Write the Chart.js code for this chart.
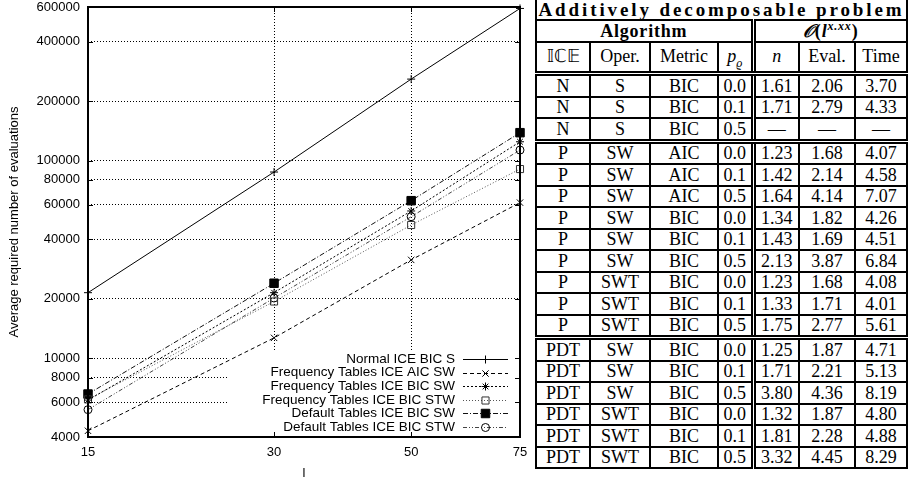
<!DOCTYPE html>
<html>
<head>
<meta charset="utf-8">
<script src="https://cdn.jsdelivr.net/npm/chart.js@4.4.1/dist/chart.umd.min.js"></script>
<style>
  body { margin: 0; background: #fff; width: 912px; height: 486px; overflow: hidden; position: relative; }
  #chart-wrap { position: absolute; left: 0; top: 0; width: 530px; height: 486px; }
  table { position: absolute; left: 535px; top: 0; border-collapse: collapse; table-layout: fixed;
          font-family: "Liberation Serif", serif; font-size: 18px; color: #000; }
  td { border: 2px solid #000; text-align: center; padding: 0; height: 19.5px; line-height: 18px; white-space: nowrap; overflow: hidden; }
  td.dl { border-left: 5px double #000; }
  tr.db td { border-bottom: 5px double #000; }
  tr.title td { border-top: none; font-weight: bold; font-size: 19px; letter-spacing: 2.9px; height: 19px; }
  tr.alg td { font-weight: bold; height: 20px; letter-spacing: 0.8px; }
  tr.hdr td { height: 25px; padding-bottom: 3px; }
</style>
</head>
<body>
<div id="chart-wrap"><canvas id="chart"></canvas></div>
<table id="results"></table>

<script>
// --- data ---
const lValues = [15, 30, 50, 75];
const normalIceBicS = [21500, 87700, 259000, 590000];
const freqIceAicSw = [4300, 12700, 31500, 61400];
const freqIceBicSw = [6150, 21500, 55700, 124800];
const freqIceBicStw = [6200, 19400, 47300, 90800];
const defIceBicSw = [6600, 24000, 62800, 138700];
const defIceBicStw = [5500, 20200, 52100, 113300];

const seriesNames = [
    'Normal ICE BIC S',
    'Frequency Tables ICE AIC SW',
    'Frequency Tables ICE BIC SW',
    'Frequency Tables ICE BIC STW',
    'Default Tables ICE BIC SW',
    'Default Tables ICE BIC STW'
];
const xTicks = [15, 30, 50, 75];
const yTicks = [4000, 6000, 8000, 10000, 20000, 40000, 60000, 80000, 100000, 200000, 400000, 600000];

// --- table data ---
const tableRows = [
    ['N', 'S', 'BIC', '0.0', '1.61', '2.06', '3.70'],
    ['N', 'S', 'BIC', '0.1', '1.71', '2.79', '4.33'],
    ['N', 'S', 'BIC', '0.5', '—', '—', '—'],
    ['P', 'SW', 'AIC', '0.0', '1.23', '1.68', '4.07'],
    ['P', 'SW', 'AIC', '0.1', '1.42', '2.14', '4.58'],
    ['P', 'SW', 'AIC', '0.5', '1.64', '4.14', '7.07'],
    ['P', 'SW', 'BIC', '0.0', '1.34', '1.82', '4.26'],
    ['P', 'SW', 'BIC', '0.1', '1.43', '1.69', '4.51'],
    ['P', 'SW', 'BIC', '0.5', '2.13', '3.87', '6.84'],
    ['P', 'SWT', 'BIC', '0.0', '1.23', '1.68', '4.08'],
    ['P', 'SWT', 'BIC', '0.1', '1.33', '1.71', '4.01'],
    ['P', 'SWT', 'BIC', '0.5', '1.75', '2.77', '5.61'],
    ['PDT', 'SW', 'BIC', '0.0', '1.25', '1.87', '4.71'],
    ['PDT', 'SW', 'BIC', '0.1', '1.71', '2.21', '5.13'],
    ['PDT', 'SW', 'BIC', '0.5', '3.80', '4.36', '8.19'],
    ['PDT', 'SWT', 'BIC', '0.0', '1.32', '1.87', '4.80'],
    ['PDT', 'SWT', 'BIC', '0.1', '1.81', '2.28', '4.88'],
    ['PDT', 'SWT', 'BIC', '0.5', '3.32', '4.45', '8.29']
];
const groupEnds = [2, 11];   // rows followed by a double rule
const colWidths = [54, 60, 68, 35, 46, 56, 52];

function buildTable() {
    const t = document.getElementById('results');
    let html = '<colgroup>' + colWidths.map(w => `<col style="width:${w}px">`).join('') + '</colgroup>';
    html += '<tr class="title"><td colspan="7">Additively decomposable problem</td></tr>';
    html += '<tr class="alg"><td colspan="4">Algorithm</td><td colspan="3" class="dl"><i>𝒪</i>(<i>l</i><sup style="font-size:12px;line-height:0"><b><i>x.xx</i></b></sup>)</td></tr>';
    html += '<tr class="hdr db"><td>𝕀ℂ𝔼</td><td>Oper.</td><td>Metric</td><td><i>p</i><sub style="font-size:12px;line-height:0"><i>ϱ</i></sub></td>'
          + '<td class="dl"><i>n</i></td><td>Eval.</td><td>Time</td></tr>';
    tableRows.forEach((r, i) => {
        const cls = groupEnds.includes(i) ? ' class="db"' : '';
        html += `<tr${cls}>` + r.map((c, j) => `<td${j === 4 ? ' class="dl"' : ''}>${c}</td>`).join('') + '</tr>';
    });
    t.innerHTML = html;
}
buildTable();

// --- chart ---
const seriesData = [normalIceBicS, freqIceAicSw, freqIceBicSw, freqIceBicStw, defIceBicSw, defIceBicStw];
const dashes = [[], [4, 3], [2, 2], [1, 2], [5, 2, 1, 2], [4, 2, 1, 2, 1, 2]];
const lineColors = ['#000', '#000', '#000', '#555', '#111', '#444'];
const pointStyles = ['cross', 'crossRot', 'star', 'rect', 'rect', 'circle'];
const pointRadii = [4, 4.5, 4, 5, 6, 4];
const pointFills = ['#fff', '#fff', '#fff', 'rgba(0,0,0,0)', '#000', 'rgba(0,0,0,0)'];

const datasets = seriesNames.map((name, i) => ({
    label: name,
    data: lValues.map((l, k) => ({ x: l, y: seriesData[i][k] })),
    borderColor: lineColors[i],
    borderWidth: 1,
    borderDash: dashes[i],
    pointStyle: pointStyles[i],
    pointRadius: pointRadii[i],
    pointBorderWidth: 1,
    pointBorderColor: i === 3 ? '#333' : '#000',
    pointBackgroundColor: pointFills[i],
    tension: 0,
    fill: false,
    clip: false
}));

// frame, inward ticks, opaque key box and key
const framePlugin = {
    id: 'frame',
    beforeDatasetsDraw(chart) {
        const { ctx, chartArea: a } = chart;
        // key box hides the grid behind it (data lines still drawn over it)
        ctx.save();
        ctx.fillStyle = '#fff';
        ctx.fillRect(a.left + 139, a.bottom - 85, a.right - a.left - 139, 85);
        ctx.restore();
    },
    afterDatasetsDraw(chart) {
        const { ctx, chartArea: a, scales } = chart;
        ctx.save();
        ctx.strokeStyle = '#000';
        ctx.lineWidth = 1;
        ctx.setLineDash([]);
        ctx.beginPath();
        yTicks.forEach(v => {
            const y = Math.round(scales.y.getPixelForValue(v)) + 0.5;
            ctx.moveTo(a.left, y); ctx.lineTo(a.left + 5, y);
            ctx.moveTo(a.right, y); ctx.lineTo(a.right - 5, y);
        });
        xTicks.forEach(v => {
            const x = Math.round(scales.x.getPixelForValue(v)) + 0.5;
            ctx.moveTo(x, a.bottom); ctx.lineTo(x, a.bottom - 5);
            ctx.moveTo(x, a.top); ctx.lineTo(x, a.top + 5);
        });
        ctx.stroke();
        ctx.lineWidth = 2;
        ctx.strokeRect(a.left, a.top, a.right - a.left, a.bottom - a.top);

        // key
        ctx.font = '13.5px "Liberation Sans", Arial, sans-serif';
        ctx.textAlign = 'right';
        ctx.textBaseline = 'middle';
        const textRight = a.right - 65;
        const x0 = a.right - 57, x1 = a.right - 12, xm = (x0 + x1) / 2;
        chart.data.datasets.forEach((ds, i) => {
            const y = a.bottom - 78 + i * 13.6;
            ctx.fillStyle = '#000';
            ctx.fillText(ds.label, textRight, y);
            ctx.save();
            ctx.strokeStyle = ds.borderColor;
            ctx.lineWidth = 1;
            ctx.setLineDash(ds.borderDash);
            ctx.beginPath();
            ctx.moveTo(x0, Math.round(y) + 0.5);
            ctx.lineTo(x1, Math.round(y) + 0.5);
            ctx.stroke();
            ctx.restore();
            ctx.save();
            ctx.strokeStyle = ds.pointBorderColor;
            ctx.fillStyle = ds.pointBackgroundColor;
            ctx.lineWidth = 1;
            Chart.helpers.drawPoint(ctx, { pointStyle: ds.pointStyle, radius: ds.pointRadius, rotation: 0, borderWidth: 1 }, xm, Math.round(y) + 0.5);
            ctx.restore();
        });
        ctx.restore();
    }
};

Chart.defaults.font.family = '"Liberation Sans", Arial, sans-serif';
Chart.defaults.font.size = 13;
Chart.defaults.color = '#000';

new Chart(document.getElementById('chart'), {
    type: 'line',
    data: { datasets },
    options: {
        responsive: true,
        maintainAspectRatio: false,
        animation: false,
        layout: { padding: { top: 7, right: 10, left: 0, bottom: 0 } },
        plugins: { legend: { display: false }, tooltip: { enabled: false } },
        scales: {
            x: {
                type: 'logarithmic',
                min: 15,
                max: 75,
                afterBuildTicks: s => { s.ticks = xTicks.map(v => ({ value: v })); },
                afterFit: s => { s.height = 49; s.paddingLeft = 0; s.paddingRight = 0; },
                ticks: { callback: v => String(v), padding: 8, maxRotation: 0, autoSkip: false },
                grid: { color: '#000', lineWidth: 1, drawTicks: false },
                border: { display: false, dash: [1, 2] },
                title: { display: true, text: 'l', padding: { top: 0, bottom: 5 } }
            },
            y: {
                type: 'logarithmic',
                min: 4000,
                max: 600000,
                afterBuildTicks: s => { s.ticks = yTicks.map(v => ({ value: v })); },
                afterFit: s => { s.width = 88; s.paddingTop = 0; s.paddingBottom = 0; },
                ticks: { callback: v => String(v), padding: 8, autoSkip: false },
                grid: { color: '#000', lineWidth: 1, drawTicks: false },
                border: { display: false, dash: [1, 2] },
                title: { display: true, text: 'Average required number of evaluations', padding: { top: 7, bottom: 0 } }
            }
        }
    },
    plugins: [framePlugin]
});
</script>
</body>
</html>
